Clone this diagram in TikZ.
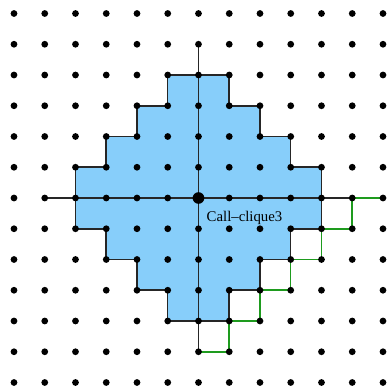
\documentclass[tikz,border=0pt]{standalone}
\usepackage{fontspec}
\setmainfont{Liberation Serif}
\usetikzlibrary{calc}
\definecolor{cliqueblue}{RGB}{135,206,250}
\definecolor{walkgreen}{RGB}{30,155,30}

\begin{document}
\begin{tikzpicture}[x=1cm,y=1cm,
    latt/.style={line width=1.4pt,black!85},
    walk/.style={line width=1.4pt,walkgreen}]
    \useasboundingbox (-6.455,-6.146) rectangle (6.163,6.439);
    \def\rdot{0.11}  % lattice dot radius
    \def\rbig{0.19}  % origin dot radius
    \def\n{6}        % half width of the lattice
    % staircase clique region
    \fill[cliqueblue] (-1,4) -- (1,4) -- (1,3) -- (2,3) -- (2,2) -- (3,2)
      -- (3,1) -- (4,1) -- (4,-1) -- (3,-1) -- (3,-2) -- (2,-2) -- (2,-3)
      -- (1,-3) -- (1,-4) -- (-1,-4) -- (-1,-3) -- (-2,-3) -- (-2,-2)
      -- (-3,-2) -- (-3,-1) -- (-4,-1) -- (-4,1) -- (-3,1) -- (-3,2)
      -- (-2,2) -- (-2,3) -- (-1,3) -- cycle;
    \draw[latt] (-1,4) -- (1,4) -- (1,3) -- (2,3) -- (2,2) -- (3,2)
      -- (3,1) -- (4,1) -- (4,-1) -- (3,-1) -- (3,-2) -- (2,-2) -- (2,-3)
      -- (1,-3) -- (1,-4) -- (-1,-4) -- (-1,-3) -- (-2,-3) -- (-2,-2)
      -- (-3,-2) -- (-3,-1) -- (-4,-1) -- (-4,1) -- (-3,1) -- (-3,2)
      -- (-2,2) -- (-2,3) -- (-1,3) -- cycle;
    % axes through the origin
    \draw[latt] (-5,0) -- (5,0);
    \draw[latt] (0,5) -- (0,-5);
    % green walk
    \draw[walk] (6,0) -- (5,0) -- (5,-1) -- (4,-1) -- (4,-2) -- (3,-2)
      -- (3,-3) -- (2,-3) -- (2,-4) -- (1,-4) -- (1,-5) -- (0,-5);
    % lattice points
    \foreach \i in {-\n,...,\n} {
      \foreach \j in {-\n,...,\n} {
        \fill (\i,\j) circle (\rdot);
      }
    }
    \fill (0,0) circle (\rbig);
    % Label
    \node[anchor=base west,inner sep=0pt,
      font=\fontsize{13.7}{14}\selectfont] (lbl) at (0.26,-0.78)
      {Call–clique3};
\end{tikzpicture}
\end{document}
